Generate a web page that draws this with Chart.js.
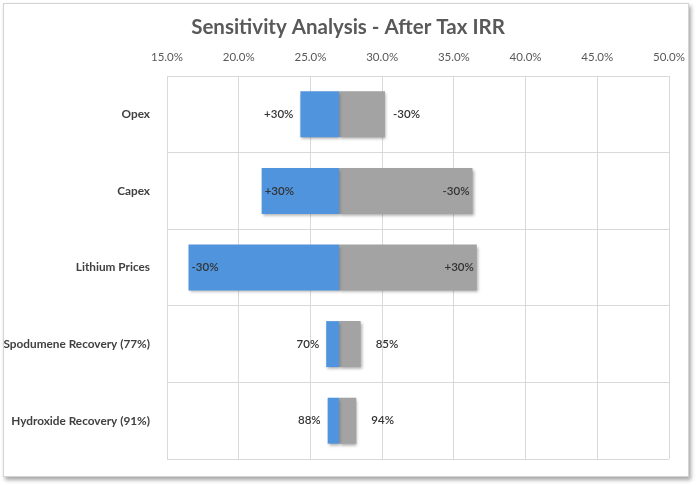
<!DOCTYPE html>
<html>
<head>
<meta charset="utf-8">
<script src="https://cdn.jsdelivr.net/npm/chart.js@4/dist/chart.umd.min.js"></script>
<style>
    body { margin: 0; background: #fff; }
    #wrap { position: relative; width: 700px; height: 485px; }
    #frame {
        position: absolute; left: 3px; top: 3px; width: 684px; height: 472px;
        border: 1px solid #d4d4d4; box-shadow: 2px 3px 4px rgba(0,0,0,0.35); background: #fff;
    }
    #box { position: absolute; left: 0; top: 0; width: 700px; height: 485px; }
</style>
</head>
<body>
<div id="wrap">
    <div id="frame"></div>
    <div id="box"><canvas id="tornado"></canvas></div>
</div>
<script>
// datos del grafico
const categories = ['Opex', 'Capex', 'Lithium Prices', 'Spodumene Recovery (77%)', 'Hydroxide Recovery (91%)'];
const baseIrr = 27.0;
const lowIrr = [24.3, 21.6, 16.5, 26.1, 26.2];
const highIrr = [30.2, 36.3, 36.6, 28.5, 28.2];
const lowLabels = ['+30%', '+30%', '-30%', '70%', '88%'];
const highLabels = ['-30%', '-30%', '+30%', '85%', '94%'];
const xTicks = [15, 20, 25, 30, 35, 40, 45, 50];

const FONT = 'Lato, "Open Sans", sans-serif';

// sombra debajo de las barras
const barShadow = {
    id: 'barShadow',
    beforeDatasetsDraw(chart) {
        const ctx = chart.ctx;
        ctx.save();
        ctx.shadowColor = 'rgba(0,0,0,0.35)';
        ctx.shadowBlur = 3;
        ctx.shadowOffsetX = 1;
        ctx.shadowOffsetY = 2;
    },
    afterDatasetsDraw(chart) {
        chart.ctx.restore();
    }
};

// etiquetas junto a cada barra
const barLabels = {
    id: 'barLabels',
    afterDatasetsDraw(chart) {
        const ctx = chart.ctx;
        ctx.save();
        ctx.font = '600 11.5px ' + FONT;
        ctx.fillStyle = '#333333';
        ctx.textBaseline = 'middle';
        const lowBars = chart.getDatasetMeta(0).data;
        const highBars = chart.getDatasetMeta(1).data;
        lowBars.forEach((bar, i) => {
            const left = Math.min(bar.x, bar.base);
            const w = Math.abs(bar.x - bar.base);
            if (w > 60) {
                ctx.textAlign = 'left';
                ctx.fillText(lowLabels[i], left + 3, bar.y);
            } else {
                ctx.textAlign = 'right';
                ctx.fillText(lowLabels[i], left - 7, bar.y);
            }
        });
        highBars.forEach((bar, i) => {
            const right = Math.max(bar.x, bar.base);
            const w = Math.abs(bar.x - bar.base);
            if (w > 60) {
                ctx.textAlign = 'right';
                ctx.fillText(highLabels[i], right - 3, bar.y);
            } else {
                ctx.textAlign = 'left';
                ctx.fillText(highLabels[i], right + (w < 30 ? 15 : 8), bar.y);
            }
        });
        ctx.restore();
    }
};

const ctx = document.getElementById('tornado').getContext('2d');
new Chart(ctx, {
    type: 'bar',
    data: {
        labels: categories,
        datasets: [
            {
                label: 'Low',
                data: lowIrr.map(v => [v, baseIrr]),
                backgroundColor: '#4f94dc',
                borderSkipped: false,
                grouped: false,
                barPercentage: 0.6,
                categoryPercentage: 1
            },
            {
                label: 'High',
                data: highIrr.map(v => [baseIrr, v]),
                backgroundColor: '#a3a3a3',
                borderSkipped: false,
                grouped: false,
                barPercentage: 0.6,
                categoryPercentage: 1
            }
        ]
    },
    options: {
        indexAxis: 'y',
        responsive: true,
        maintainAspectRatio: false,
        animation: false,
        layout: { padding: { top: 10, right: 4, bottom: 26, left: 0 } },
        plugins: {
            legend: { display: false },
            tooltip: { enabled: false },
            title: {
                display: true,
                text: 'Sensitivity Analysis - After Tax IRR',
                color: '#595959',
                font: { family: FONT, size: 20.5, weight: 'bold', lineHeight: 1.2 },
                padding: { top: 5, bottom: 6 }
            }
        },
        scales: {
            x: {
                position: 'top',
                min: 15,
                max: 50,
                afterBuildTicks(scale) {
                    scale.ticks = xTicks.map(v => ({ value: v }));
                },
                afterFit(scale) { scale.height = 30.4; },
                ticks: {
                    color: '#595959',
                    font: { family: FONT, size: 11.5 },
                    padding: 12,
                    callback: v => v.toFixed(1) + '%'
                },
                grid: { color: '#d9d9d9', drawTicks: false },
                border: { color: '#d9d9d9' }
            },
            y: {
                afterFit(scale) { scale.width = 167; },
                ticks: {
                    color: '#404040',
                    font: { family: FONT, size: 11.8, weight: 'bold' },
                    padding: 17
                },
                grid: { color: '#d9d9d9', drawTicks: false, offset: true },
                border: { color: '#d9d9d9' }
            },
            // eje vacio a la derecha, solo reserva espacio
            yRight: {
                type: 'category',
                position: 'right',
                afterFit(scale) { scale.width = 27; },
                ticks: { display: false },
                grid: { display: false },
                border: { display: false }
            }
        }
    },
    plugins: [barShadow, barLabels]
});
</script>
</body>
</html>
